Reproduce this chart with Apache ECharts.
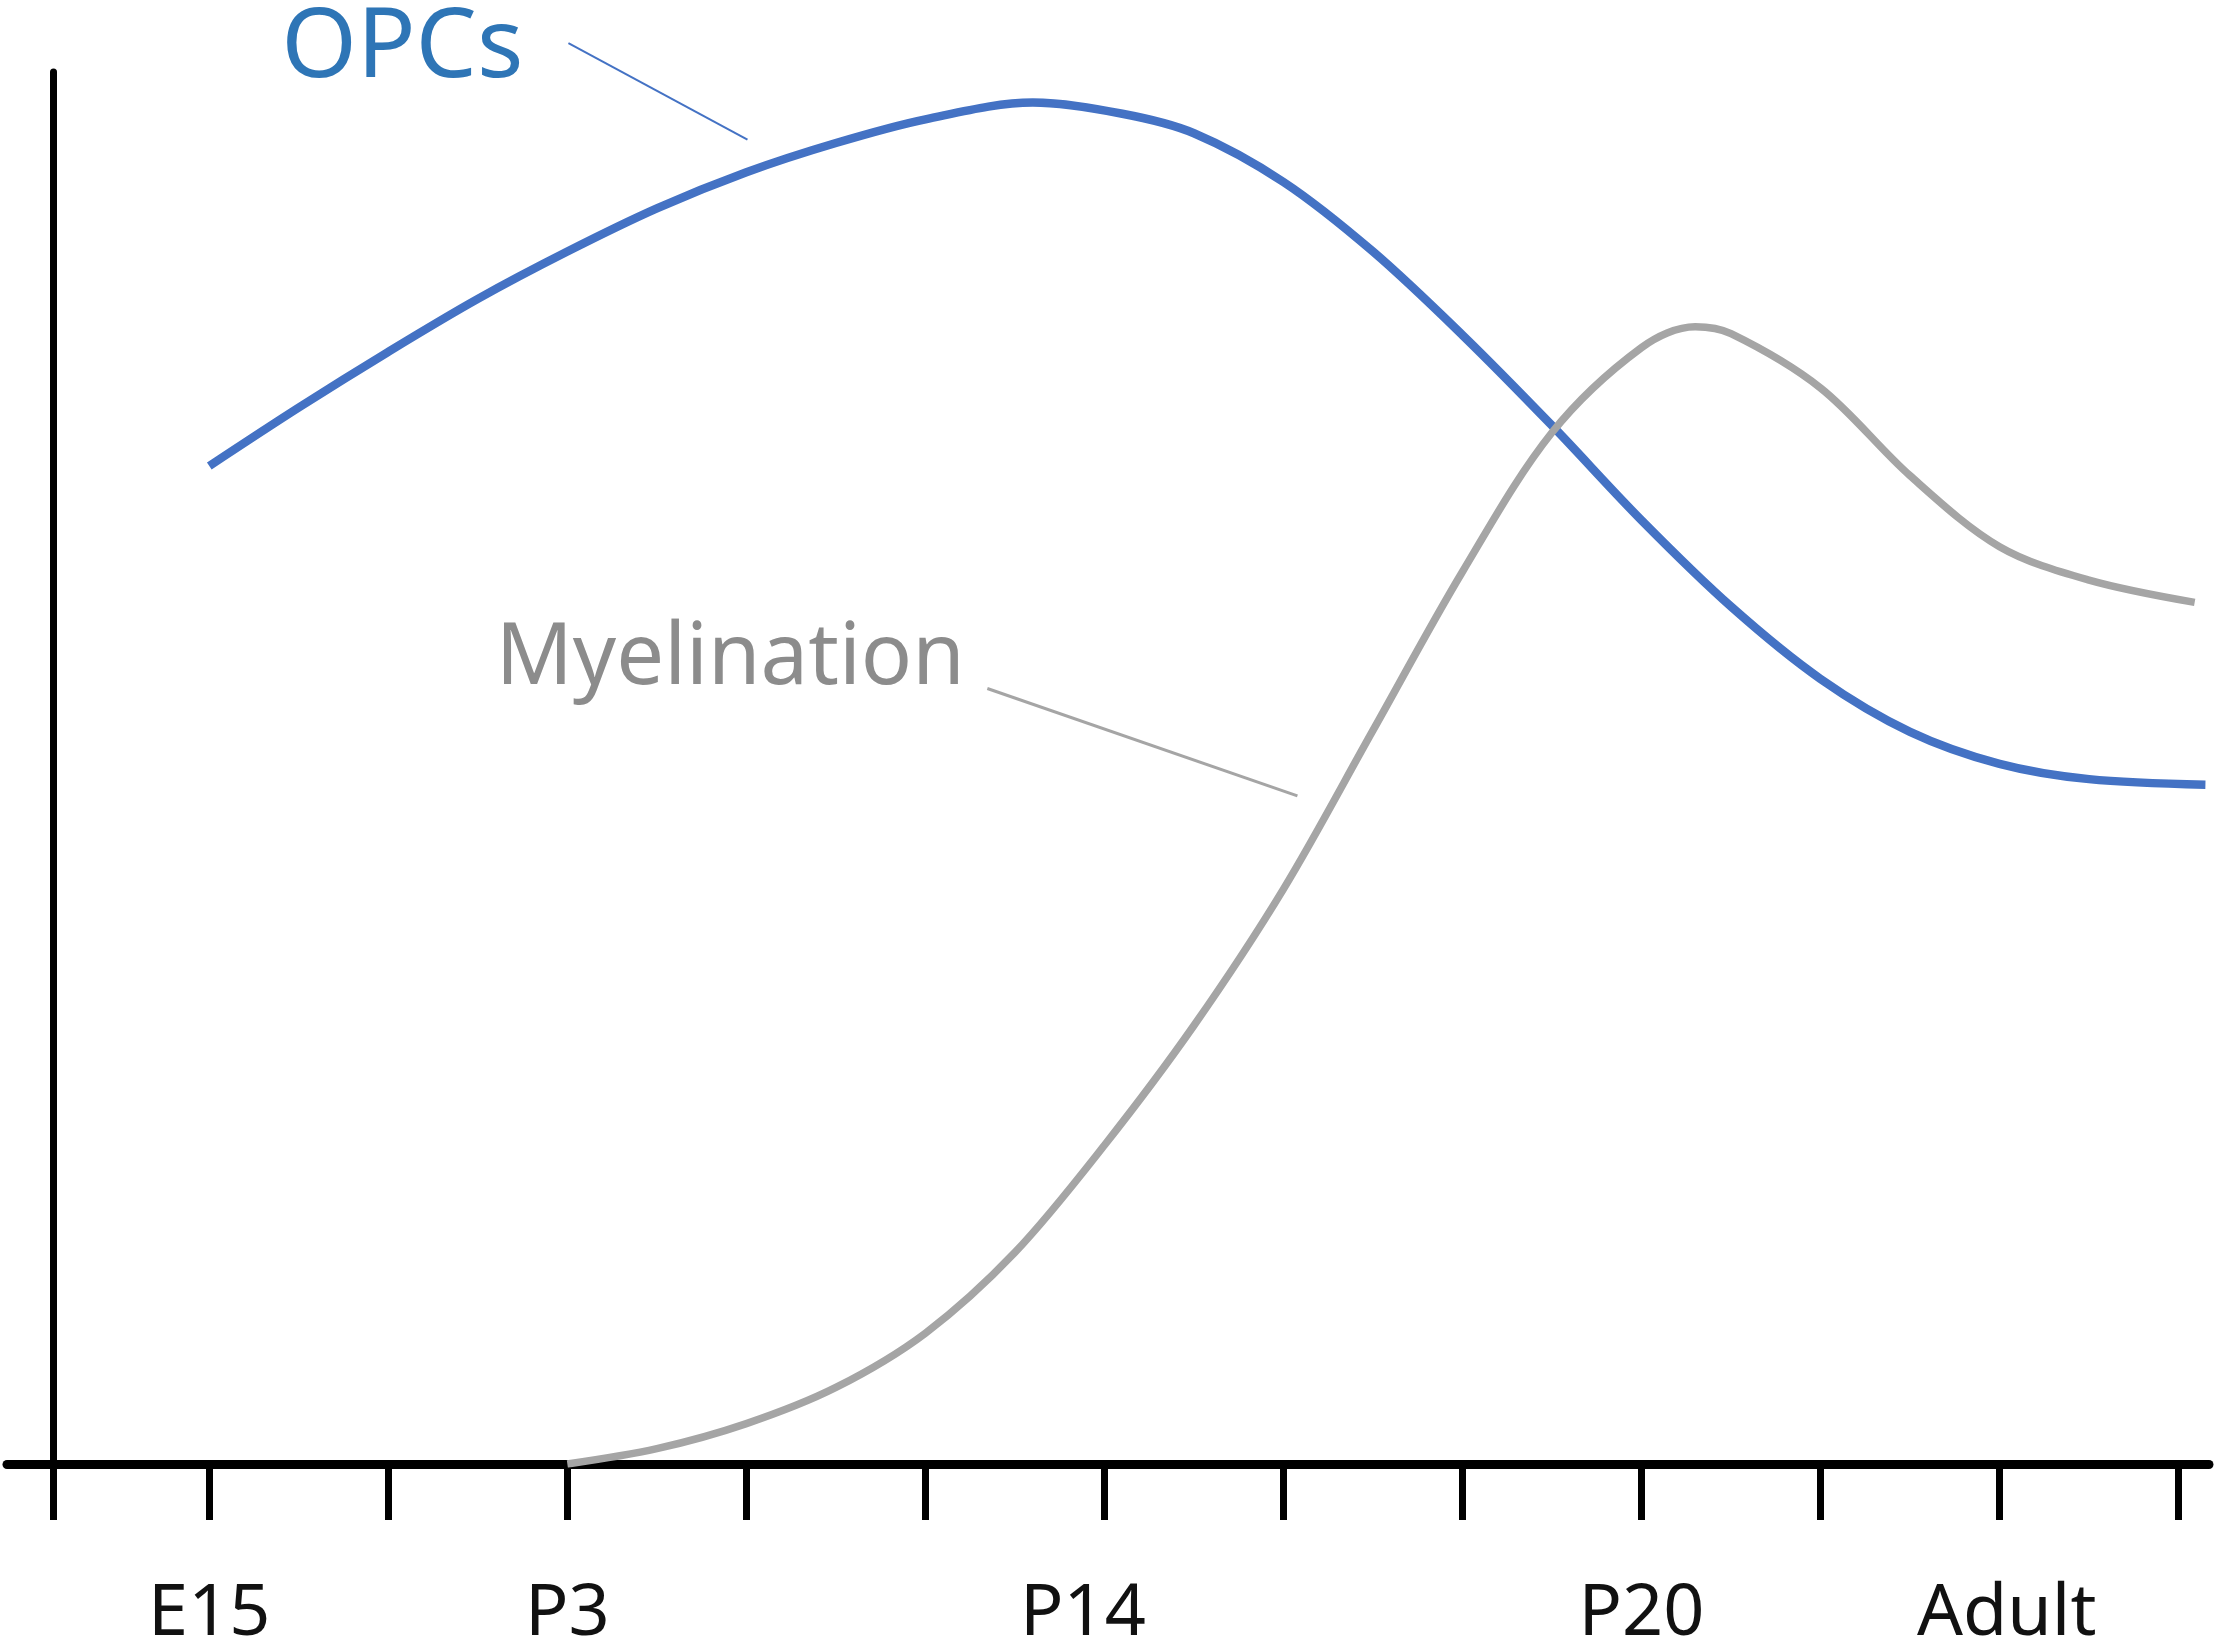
<!DOCTYPE html>
<html>
<head>
<meta charset="utf-8">
<title>OPCs and myelination</title>
<script src="https://cdn.jsdelivr.net/npm/echarts@6/dist/echarts.min.js"></script>
<style>
  html, body { margin: 0; padding: 0; background: #fff; }
  #chart { width: 2217px; height: 1650px; }
</style>
</head>
<body>
<div id="chart"></div>
<script>
// x in tick units (0 = E15 tick, one step per tick), y in 0..100 of axis height
const tickValues = [-0.87, 0, 1, 2, 3, 4, 5, 6, 7, 8, 9, 10, 11];
const tickLabels = ['E15', 'P3', 'P14', 'P20', 'Adult'];
const labelPos = [0, 2, 4.88, 8, 10.04];

const opcsX = [0, 0.5, 1, 1.5, 2, 2.5, 3, 3.5, 4, 4.6, 5.1, 5.5, 6, 6.5, 7, 7.5, 8, 8.5, 9, 9.5, 10, 10.5, 11.15];
const opcsY = [71.7, 75.9, 79.9, 83.7, 87.1, 90.2, 92.8, 94.9, 96.6, 97.8, 97.0, 95.6, 92.1, 87.1, 81.1, 74.6, 67.8, 61.6, 56.4, 52.6, 50.3, 49.2, 48.8];

const mylX = [2, 2.5, 3, 3.5, 4, 4.5, 5, 5.5, 6, 6.5, 7, 7.5, 8, 8.3, 8.5, 9, 9.5, 10, 10.5, 11.09];
const mylY = [0, 1.1, 2.9, 5.5, 9.4, 15.2, 22.9, 31.5, 41.3, 52.7, 64.1, 74.1, 80.2, 81.7, 81.2, 77.3, 71.0, 65.9, 63.5, 61.9];

// annotation anchors (data units)
const opcsText = [1.078, 101.6];
const opcsLeader = [[2.006, 102.07], [3.006, 95.14]];
const mylText = [2.91, 57.8];
const mylLeader = [[4.346, 55.71], [6.078, 48.0]];

const FONT = "'Noto Sans', 'Open Sans', sans-serif";
const BLUE = '#4472C4';
const GREY = '#A5A5A5';

const chart = echarts.init(document.getElementById('chart'));

const pairs = (xs, ys) => xs.map((x, i) => [x, ys[i]]);

chart.setOption({
  backgroundColor: '#fff',
  animation: false,
  grid: { left: 7, right: 8, top: 72, bottom: 178, containLabel: false },
  xAxis: {
    type: 'value',
    min: -1.13,
    max: 11.17,
    splitLine: { show: false },
    axisLine: { show: true, onZero: false, lineStyle: { color: '#000', width: 9 } },
    axisTick: {
      show: true,
      length: 56,
      customValues: tickValues,
      lineStyle: { color: '#000', width: 7 }
    },
    axisLabel: {
      show: true,
      customValues: labelPos,
      margin: 114,
      fontSize: 72,
      fontFamily: FONT,
      color: '#111',
      formatter: (v) => {
        const i = labelPos.indexOf(v);
        return i >= 0 ? tickLabels[i] : '';
      }
    }
  },
  yAxis: {
    type: 'value',
    min: 0,
    max: 100,
    offset: -46,
    splitLine: { show: false },
    axisLine: { show: true, onZero: false, lineStyle: { color: '#000', width: 7 } },
    axisTick: { show: false },
    axisLabel: { show: false }
  },
  series: [
    {
      name: 'OPCs',
      type: 'line',
      data: pairs(opcsX, opcsY),
      smooth: 0.33,
      showSymbol: false,
      lineStyle: { color: BLUE, width: 8.5 },
      z: 3
    },
    {
      name: 'Myelination',
      type: 'line',
      data: pairs(mylX, mylY),
      smooth: 0.33,
      showSymbol: false,
      lineStyle: { color: GREY, width: 7.5 },
      z: 4
    }
  ]
});

// labels and leader lines, placed through the grid's own scale
const px = (p) => chart.convertToPixel({ gridIndex: 0 }, p);

function leader(pts, color, width) {
  const a = px(pts[0]);
  const b = px(pts[1]);
  return {
    type: 'line',
    shape: { x1: a[0], y1: a[1], x2: b[0], y2: b[1] },
    style: { stroke: color, lineWidth: width },
    z: 10
  };
}

function label(p, text, color, size) {
  const c = px(p);
  return {
    type: 'text',
    x: c[0],
    y: c[1],
    style: {
      text: text,
      fill: color,
      font: size + 'px ' + FONT,
      align: 'center',
      verticalAlign: 'middle',
      textAlign: 'center',
      textVerticalAlign: 'middle'
    },
    z: 10
  };
}

chart.setOption({
  graphic: [
    label(opcsText, 'OPCs', '#2E75B6', 97),
    leader(opcsLeader, BLUE, 2),
    label(mylText, 'Myelination', '#8C8C8C', 85),
    leader(mylLeader, GREY, 3)
  ]
});
</script>
</body>
</html>
